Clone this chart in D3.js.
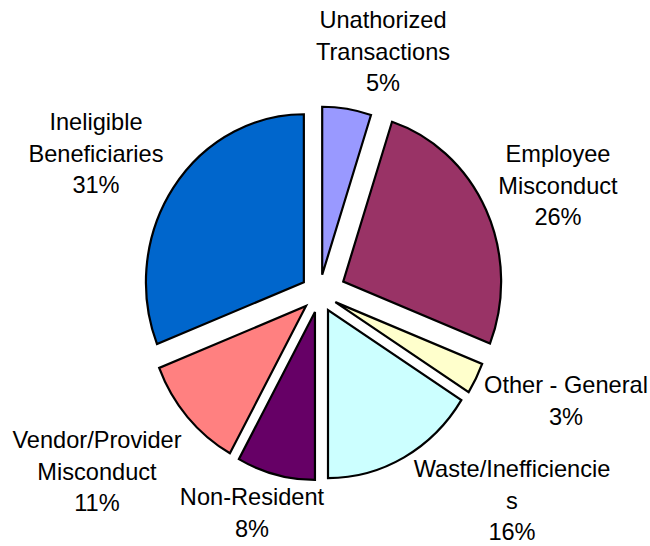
<!DOCTYPE html>
<html>
<head>
<meta charset="utf-8">
<script src="https://cdn.jsdelivr.net/npm/d3@7"></script>
<style>
  body { margin: 0; background: #fff; }
  svg { display: block; }
</style>
</head>
<body>
<div id="chart"></div>
<script>
(function () {
    // data, clockwise from 12 o'clock
    var categories = ["Unathorized Transactions", "Employee Misconduct", "Other - General",
        "Waste/Inefficiencies", "Non-Resident", "Vendor/Provider Misconduct", "Ineligible Beneficiaries"];
    var percents = [5, 26, 3, 16, 8, 11, 31];
    // label text as wrapped in the original
    var labelLines = [
        ["Unathorized", "Transactions", "5%"],
        ["Employee", "Misconduct", "26%"],
        ["Other - General", "3%"],
        ["Waste/Inefficiencie", "s", "16%"],
        ["Non-Resident", "8%"],
        ["Vendor/Provider", "Misconduct", "11%"],
        ["Ineligible", "Beneficiaries", "31%"]
    ];
    var colors = ["#9999FF", "#993366", "#FFFFCC", "#CCFFFF", "#660066", "#FF8080", "#0066CC"];

    var width = 650
    var height = 546
    var cx = 319.4, cy = 293.5
    var radius = 168
    var sx = 0.94   // the pie is a bit squashed horizontally
    var explode = [19, 28, 19, 19, 19, 19, 20]
    // label anchor (centre x, first baseline)
    var labelPos = [[383, 28], [558, 162], [566, 393], [512, 477], [252, 505], [97, 448], [96, 130]]
    var lineH = 31.7

    var svg = d3.select("#chart")
        .append("svg")
        .attr("width", width)
        .attr("height", height)

    var pie = d3.pie()
        .sort(null)
        .value(function (d) { return d; })
    var data_ready = pie(percents)

    var arcGenerator = d3.arc()
        .innerRadius(0)
        .outerRadius(radius)

    svg.selectAll("path.slice")
        .data(data_ready)
        .enter()
        .append("path")
        .attr("class", "slice")
        .attr("d", arcGenerator)
        .attr("transform", function (d, i) {
            var mid = (d.startAngle + d.endAngle) / 2;
            var dx = Math.sin(mid) * explode[i] * sx;
            var dy = -Math.cos(mid) * explode[i];
            return "translate(" + (cx + dx) + "," + (cy + dy) + ") scale(" + sx + ",1)";
        })
        .attr("fill", function (d, i) { return colors[i]; })
        .attr("stroke", "#000")
        .attr("stroke-width", 2.2)
        .attr("stroke-linejoin", "miter")
        .attr("vector-effect", "non-scaling-stroke")

    var labels = svg.selectAll("text.label")
        .data(data_ready)
        .enter()
        .append("text")
        .attr("class", "label")
        .attr("text-anchor", "middle")
        .style("font-family", "'Liberation Sans', Arial, sans-serif")
        .style("font-size", "23.6px")
        .attr("fill", "#000")

    labels.each(function (d, i) {
        var t = d3.select(this);
        labelLines[i].forEach(function (line, k) {
            t.append("tspan")
                .attr("x", labelPos[i][0])
                .attr("y", labelPos[i][1] + k * lineH)
                .text(line);
        });
    });
})();
</script>
</body>
</html>
